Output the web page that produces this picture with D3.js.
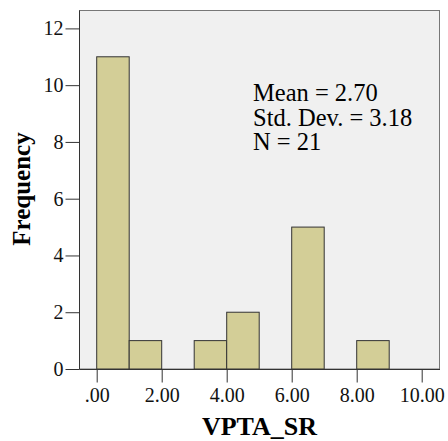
<!DOCTYPE html>
<html>
<head>
<meta charset="utf-8">
<script src="https://cdn.jsdelivr.net/npm/d3@7"></script>
<style>
  body { margin: 0; background: #fff; }
  text { font-family: "Liberation Serif", "Times New Roman", serif; }
</style>
</head>
<body>
<svg width="448" height="441"></svg>
<script>
var binStarts = [0, 1, 2, 3, 4, 5, 6, 7, 8, 9];
var counts = [11, 1, 0, 1, 2, 0, 5, 0, 1, 0];
var xTicks = [0, 2, 4, 6, 8, 10];
var xTickLabels = [".00", "2.00", "4.00", "6.00", "8.00", "10.00"];
var yTicks = [0, 2, 4, 6, 8, 10, 12];
var statLines = ["Mean = 2.70", "Std. Dev. = 3.18", "N = 21"];

var svg = d3.select("svg");
var x = d3.scaleLinear().domain([0, 10]).range([96.7, 421.7]);
var y = d3.scaleLinear().domain([0, 12]).range([369, 28.4]);

// panel
svg.append("rect")
    .attr("x", 79.5).attr("y", 10.5)
    .attr("width", 360).attr("height", 358.5)
    .attr("fill", "#f0f0f0")
    .attr("stroke", "#777");

// bars
svg.append("g").selectAll("rect")
    .data(binStarts.filter(function(d, i) { return counts[i] > 0; }))
    .enter().append("rect")
    .attr("x", function(d) { return x(d); })
    .attr("y", function(d) { return y(counts[d]); })
    .attr("width", function(d) { return x(d + 1) - x(d); })
    .attr("height", function(d) { return y(0) - y(counts[d]); })
    .attr("fill", "#d3ce97")
    .attr("stroke", "#333")
    .attr("stroke-width", 1);

// axes
var yAxis = svg.append("g")
    .attr("transform", "translate(79.5,0)")
    .call(d3.axisLeft(y).tickValues(yTicks).tickSize(14).tickPadding(2).tickFormat(d3.format("d")));
var xAxis = svg.append("g")
    .attr("transform", "translate(0,369.5)")
    .call(d3.axisBottom(x).tickValues(xTicks).tickSize(13).tickPadding(5)
        .tickFormat(function(d, i) { return xTickLabels[i]; }));
[xAxis, yAxis].forEach(function(g) {
    g.attr("font-family", null).attr("font-size", null);
    g.select(".domain").attr("stroke", "#333");
    g.selectAll(".tick line").attr("stroke", "#333");
    g.selectAll(".tick text")
        .style("font-family", "'Liberation Serif', serif")
        .style("font-size", "20px")
        .attr("fill", "#111");
});
xAxis.select(".domain").attr("d", "M79.5,0H440");
yAxis.select(".domain").attr("d", "M0,10.5V369");

// axis titles
svg.append("text")
    .attr("x", 259.5).attr("y", 435)
    .attr("text-anchor", "middle")
    .attr("font-size", "26px")
    .attr("font-weight", "bold")
    .text("VPTA_SR");
svg.append("text")
    .attr("transform", "translate(30,189) rotate(-90)")
    .attr("text-anchor", "middle")
    .attr("font-size", "25px")
    .attr("font-weight", "bold")
    .text("Frequency");

// stats
svg.append("g").selectAll("text")
    .data(statLines).enter().append("text")
    .attr("x", 253)
    .attr("y", function(d, i) { return 101 + i * 24.5; })
    .attr("font-size", "24.5px")
    .text(function(d) { return d; });
</script>
</body>
</html>
